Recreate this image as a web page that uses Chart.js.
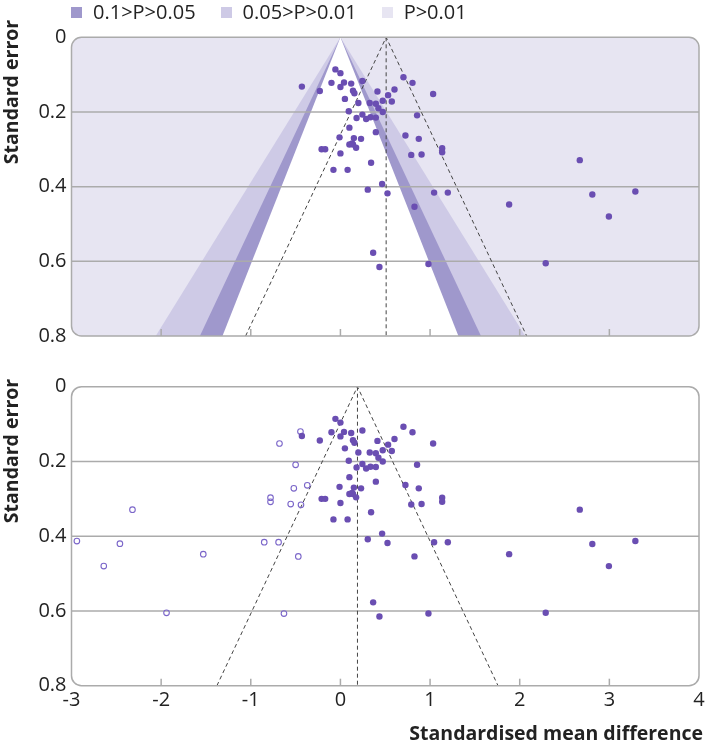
<!DOCTYPE html>
<html>
<head>
<meta charset="utf-8">
<script src="https://cdn.jsdelivr.net/npm/chart.js@4.4.1/dist/chart.umd.min.js"></script>
<style>
  body { margin: 0; background: #fff; }
  #wrap { position: relative; width: 705px; height: 747px; overflow: hidden; }
  canvas { position: absolute; left: 0; }
  #legend {
    position: absolute; left: 71px; top: 0; height: 22px; z-index: 2;
    display: flex; align-items: center;
    font: 20px "Open Sans", sans-serif; color: #222; white-space: nowrap;
  }
  #legend .box { width: 11px; height: 11px; margin-right: 11px; margin-top: 2px; }
  #legend .item { display: flex; align-items: center; margin-right: 25px; }
</style>
</head>
<body>
<div id="wrap">
  <canvas id="contourChart" width="705" height="360" style="top:0"></canvas>
  <canvas id="trimFillChart" width="705" height="387" style="top:360px"></canvas>
  <div id="legend"></div>
</div>
<script>
// Observed studies (standardised mean difference, standard error)
const observedSmd = [
  -0.056, 0.00, -0.10, 0.04, 0.12, 0.00, -0.43, -0.23, 0.14, 0.156,
  0.05, 0.20, 0.093, 0.18, 0.10, -0.01, 0.15, 0.23, -0.21, -0.17,
  0.13, 0.10, 0.14, 0.175, 0.00, -0.078, 0.08, 0.245, 0.327, 0.395,
  0.413, 0.532, 0.603, 0.703, 0.804, 1.034, 0.472, 0.573, 0.424, 0.472,
  0.245, 0.287, 0.335, 0.395, 0.855, 0.395, 0.725, 0.874, 0.790, 0.905,
  1.135, 1.135, 0.342, 0.465, 0.305, 0.525, 1.045, 1.198, 0.826, 1.882,
  2.67, 2.81, 3.29, 2.995, 0.365, 0.435, 0.982, 2.29
];
const observedSe = [
  0.086, 0.096, 0.122, 0.121, 0.124, 0.133, 0.132, 0.144, 0.143, 0.150,
  0.165, 0.176, 0.198, 0.216, 0.242, 0.268, 0.270, 0.272, 0.300, 0.300,
  0.284, 0.287, 0.287, 0.296, 0.311, 0.355, 0.355, 0.117, 0.176, 0.178,
  0.145, 0.155, 0.140, 0.107, 0.122, 0.152, 0.170, 0.172, 0.190, 0.200,
  0.207, 0.219, 0.214, 0.215, 0.209, 0.254, 0.263, 0.272, 0.315, 0.314,
  0.297, 0.308, 0.336, 0.393, 0.408, 0.418, 0.416, 0.416, 0.454, 0.448,
  0.329, 0.421, 0.413, 0.480, 0.577, 0.615, 0.607, 0.605
];

// Imputed (trim and fill) studies
const imputedSmd = [
  -2.94, -2.46, -2.64, -2.32, -1.53, -1.94, -0.68, -0.446, -0.50, -0.52,
  -0.37, -0.78, -0.78, -0.555, -0.44, -0.85, -0.69, -0.47, -0.63
];
const imputedSe = [
  0.413, 0.420, 0.480, 0.329, 0.448, 0.605, 0.152, 0.120, 0.209, 0.272,
  0.264, 0.297, 0.308, 0.314, 0.316, 0.416, 0.416, 0.454, 0.607
];

// Pooled estimates (centre of the dashed funnels)
const pooledObserved = 0.51;
const pooledAdjusted = 0.19;
const funnelZ = 1.96;

// Significance contours around zero, widest first
const contourZ = [2.576, 1.96, 1.645];
const contourColors = ['#cecae6', '#9f98cc', '#ffffff'];

// Legend
const legendLabels = ['0.1>P>0.05', '0.05>P>0.01', 'P>0.01'];
const legendColors = ['#9f98cc', '#cecae6', '#e7e5f2'];

// Axes
const xTicks = [-3, -2, -1, 0, 1, 2, 3, 4];
const xTickLabels = ['-3', '-2', '-1', '0', '1', '2', '3', '4'];
const xInnerTicks = [-2, -1, 0, 1, 2, 3];
const seTicks = [0, 0.2, 0.4, 0.6, 0.8];
const seTickLabels = ['0', '0.2', '0.4', '0.6', '0.8'];
const seGridLines = [0.2, 0.4, 0.6];
const seMax = 0.8;

const dotColor = '#6a4eb2';
const openColor = '#7b66c9';
const frameColor = '#ababab';
const textColor = '#222';
const fontFamily = '"Open Sans", sans-serif';

const toPoints = (xs, ys) => xs.map((x, i) => ({ x, y: ys[i] }));

/**
 * Draws the rounded panel, gridlines, inner x ticks and axis titles
 */
const panelFrame = {
  id: 'panelFrame',
  _path(ctx, a, r) {
    ctx.beginPath();
    ctx.moveTo(a.left + r, a.top);
    ctx.lineTo(a.right - r, a.top);
    ctx.arcTo(a.right, a.top, a.right, a.top + r, r);
    ctx.lineTo(a.right, a.bottom - r);
    ctx.arcTo(a.right, a.bottom, a.right - r, a.bottom, r);
    ctx.lineTo(a.left + r, a.bottom);
    ctx.arcTo(a.left, a.bottom, a.left, a.bottom - r, r);
    ctx.lineTo(a.left, a.top + r);
    ctx.arcTo(a.left, a.top, a.left + r, a.top, r);
    ctx.closePath();
  },
  beforeDraw(chart, args, opts) {
    const ctx = chart.ctx;
    ctx.save();
    this._path(ctx, chart.chartArea, 10);
    ctx.fillStyle = opts.background;
    ctx.fill();
    ctx.restore();
  },
  beforeDatasetsDraw(chart) {
    // runs after the filler plugin, so gridlines sit over the contours
    const { ctx, chartArea: a, scales } = chart;
    ctx.save();
    ctx.strokeStyle = frameColor;
    ctx.lineWidth = 1.5;
    seGridLines.forEach(v => {
      const py = scales.y.getPixelForValue(v);
      ctx.beginPath();
      ctx.moveTo(a.left, py);
      ctx.lineTo(a.right, py);
      ctx.stroke();
    });
    ctx.restore();
  },
  afterDraw(chart, args, opts) {
    const { ctx, chartArea: a, scales } = chart;
    ctx.save();
    ctx.strokeStyle = frameColor;
    ctx.lineWidth = 1.5;
    this._path(ctx, a, 10);
    ctx.stroke();
    xInnerTicks.forEach(v => {
      const px = scales.x.getPixelForValue(v);
      ctx.beginPath();
      ctx.moveTo(px, a.bottom);
      ctx.lineTo(px, a.bottom - 7);
      ctx.stroke();
    });

    ctx.fillStyle = textColor;
    ctx.font = 'bold 19.5px ' + fontFamily;
    ctx.textBaseline = 'middle';
    ctx.save();
    ctx.translate(12.5, opts.yTitleY);
    ctx.rotate(-Math.PI / 2);
    ctx.textAlign = 'center';
    ctx.fillText('Standard error', 0, 0);
    ctx.restore();
    if (opts.xTitle) {
      ctx.textAlign = 'right';
      ctx.fillText(opts.xTitle, 703, opts.xTitleY);
    }
    ctx.restore();
  }
};

function funnelDataset(centre, order) {
  return {
    data: [
      { x: centre - funnelZ * seMax, y: seMax },
      { x: centre, y: 0 },
      { x: centre + funnelZ * seMax, y: seMax }
    ],
    showLine: true,
    borderColor: '#444',
    borderWidth: 1,
    borderDash: [4, 3],
    pointRadius: 0,
    fill: false,
    order
  };
}

function centreDataset(centre, order) {
  return {
    data: [{ x: centre, y: 0 }, { x: centre, y: seMax }],
    showLine: true,
    borderColor: '#444',
    borderWidth: 1,
    borderDash: [4, 3],
    pointRadius: 0,
    fill: false,
    order
  };
}

function contourDatasets() {
  return contourZ.map((z, i) => ({
    data: [
      { x: -z * seMax, y: seMax },
      { x: 0, y: 0 },
      { x: z * seMax, y: seMax }
    ],
    showLine: true,
    borderWidth: 0,
    borderColor: 'rgba(0,0,0,0)',
    backgroundColor: contourColors[i],
    pointRadius: 0,
    fill: 'shape',
    order: 10 - i
  }));
}

function observedDataset() {
  return {
    data: toPoints(observedSmd, observedSe),
    pointRadius: 3.2,
    pointBackgroundColor: dotColor,
    pointBorderWidth: 0,
    order: 0
  };
}

function yScale() {
  return {
    type: 'linear',
    reverse: true,
    min: 0,
    max: seMax,
    afterBuildTicks: s => { s.ticks = seTicks.map(v => ({ value: v })); },
    afterFit: s => { s.width = 71.5; },
    grid: { display: false, drawTicks: false },
    border: { display: false },
    ticks: {
      padding: 5,
      color: textColor,
      font: { family: fontFamily, size: 20 },
      callback: (v, i) => seTickLabels[i]
    }
  };
}

const baseOptions = {
  responsive: false,
  animation: false,
  events: [],
  plugins: {
    legend: { display: false },
    tooltip: { enabled: false },
    filler: { drawTime: 'beforeDatasetsDraw' }
  }
};

// Top panel: contour enhanced funnel plot
new Chart(document.getElementById('contourChart'), {
  type: 'scatter',
  data: {
    datasets: [
      observedDataset(),
      funnelDataset(pooledObserved, 1),
      centreDataset(pooledObserved, 1),
      ...contourDatasets()
    ]
  },
  options: {
    ...baseOptions,
    layout: { padding: { top: 37.3, bottom: 24, left: 0, right: 6 } },
    plugins: {
      ...baseOptions.plugins,
      panelFrame: { background: '#e7e5f2', yTitleY: 92 }
    },
    scales: {
      x: { type: 'linear', min: -3, max: 4, display: false },
      y: yScale()
    }
  },
  plugins: [panelFrame]
});

// Bottom panel: trim and fill funnel plot
new Chart(document.getElementById('trimFillChart'), {
  type: 'scatter',
  data: {
    datasets: [
      observedDataset(),
      {
        data: toPoints(imputedSmd, imputedSe),
        pointRadius: 2.8,
        pointBackgroundColor: 'rgba(255,255,255,0)',
        pointBorderColor: openColor,
        pointBorderWidth: 1.1,
        order: 0
      },
      funnelDataset(pooledAdjusted, 1),
      centreDataset(pooledAdjusted, 1)
    ]
  },
  options: {
    ...baseOptions,
    layout: { padding: { top: 26.7, bottom: 0, left: 0, right: 6 } },
    plugins: {
      ...baseOptions.plugins,
      panelFrame: {
        background: '#ffffff',
        yTitleY: 91,
        xTitle: 'Standardised mean difference',
        xTitleY: 374
      }
    },
    scales: {
      x: {
        type: 'linear',
        min: -3,
        max: 4,
        afterBuildTicks: s => { s.ticks = xTicks.map(v => ({ value: v })); },
        afterFit: s => {
          s.height = 61.3;
          // let the "4" label overhang instead of shrinking the panel
          s.paddingLeft = 0;
          s.paddingRight = 0;
        },
        grid: { display: false, drawTicks: false },
        border: { display: false },
        ticks: {
          padding: 3,
          maxRotation: 0,
          autoSkip: false,
          color: textColor,
          font: { family: fontFamily, size: 20 },
          callback: (v, i) => xTickLabels[i]
        }
      },
      y: yScale()
    }
  },
  plugins: [panelFrame]
});

// Legend for the significance contours
const legendEl = document.getElementById('legend');
legendLabels.forEach((label, i) => {
  const item = document.createElement('span');
  item.className = 'item';
  const box = document.createElement('span');
  box.className = 'box';
  box.style.background = legendColors[i];
  item.appendChild(box);
  item.appendChild(document.createTextNode(label));
  legendEl.appendChild(item);
});
</script>
</body>
</html>
